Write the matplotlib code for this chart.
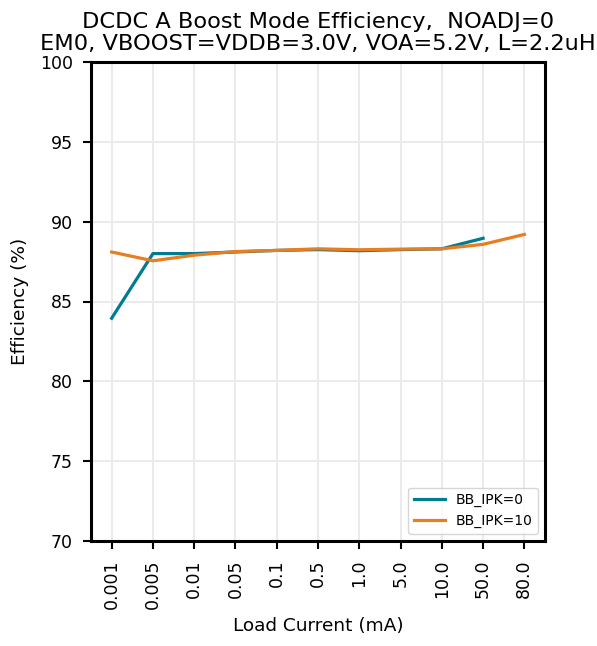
import matplotlib
matplotlib.use("Agg")
import matplotlib.pyplot as plt

categories = ["0.001", "0.005", "0.01", "0.05", "0.1", "0.5", "1.0", "5.0", "10.0", "50.0", "80.0"]
ipk0 = [83.95, 88.0, 88.0, 88.1, 88.2, 88.25, 88.18, 88.25, 88.3, 88.96]
ipk10 = [88.1, 87.55, 87.9, 88.13, 88.2, 88.3, 88.24, 88.28, 88.3, 88.58, 89.2]

fig = plt.figure(figsize=(5.97, 6.46), dpi=100)
ax = fig.add_axes([91/597, 1-541/646, 454/597, 479/646])
x0 = list(range(len(ipk0)))
x10 = list(range(len(ipk10)))
ax.plot(x0, ipk0, color="#007C91", lw=2.3, label="BB_IPK=0")
ax.plot(x10, ipk10, color="#E87E22", lw=2.3, label="BB_IPK=10")
ax.set_xlim(-0.5, len(categories) - 0.5)
ax.set_ylim(70, 100)
ax.set_xticks(range(len(categories)))
ax.set_xticklabels(categories, rotation=90)
ax.set_yticks([70, 75, 80, 85, 90, 95, 100])
ax.tick_params(axis="both", labelsize=12.5, length=6, width=1.5, pad=7)
ax.grid(True, color="#ebebeb", lw=1.4)
ax.set_axisbelow(True)
for s in ax.spines.values():
    s.set_linewidth(2.2)
ax.set_xlabel("Load Current (mA)", fontsize=13.3, labelpad=6)
ax.set_ylabel("Efficiency (%)", fontsize=13.3, labelpad=8)
ax.set_title("DCDC A Boost Mode Efficiency,  NOADJ=0\nEM0, VBOOST=VDDB=3.0V, VOA=5.2V, L=2.2uH", fontsize=16.2, pad=9, linespacing=1.1)
ax.legend(loc="lower right", fontsize=10, handlelength=2.2)
fig.savefig("out.png", dpi=100)
